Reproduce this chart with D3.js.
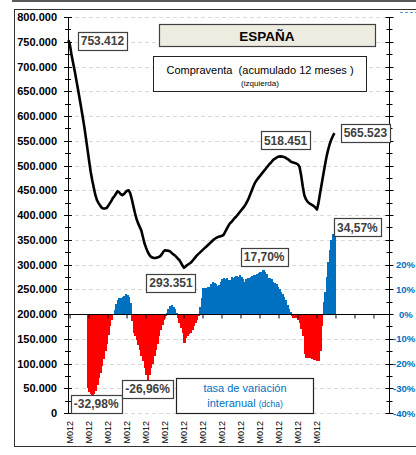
<!DOCTYPE html>
<html>
<head>
<meta charset="utf-8">
<script src="https://cdn.jsdelivr.net/npm/d3@7"></script>
<style>
  body { margin: 0; background: #fff; }
  text { font-family: "Liberation Sans", Arial, sans-serif; }
</style>
</head>
<body>
<script>
// compraventa de viviendas, acumulado 12 meses (miles), mensual desde M012
const compraventa = [
  753.412, 742, 722, 706, 690, 672, 654, 636, 617, 598, 578, 556,
  533, 510, 488, 470, 455, 440, 430, 424, 419, 415, 413, 413,
  414, 418, 423, 428, 434, 438, 443, 448, 446, 442, 440, 442,
  446, 449, 450, 444, 432, 418, 404, 392, 383, 376, 369, 356,
  343, 334, 326, 320, 316, 314, 313, 313, 314, 315, 317, 321,
  326, 329, 328, 328, 327, 324, 321, 319, 316, 312, 309, 304,
  298, 293.351, 296, 299, 301, 303, 306, 310, 314, 318, 321, 324,
  327, 330, 333, 336, 339, 342, 345, 348, 351, 353, 355, 356,
  357, 358, 360, 366, 372, 378, 383, 386, 390, 394, 397, 401,
  405, 409, 413, 417, 422, 428, 435, 443, 451, 459, 466, 471,
  475, 479, 483, 487, 491, 495, 499, 503, 506, 510, 513, 515,
  517, 518, 518.451, 518, 517, 516, 514, 512, 509, 507, 506, 505,
  504, 502, 497, 480, 458, 440, 432, 427, 424, 422, 420, 418,
  415, 411, 425, 445, 463, 482, 500, 517, 531, 543, 552, 559,
  565.523
];

// tasa de variación interanual (%)
const tasa = [
  null, null, null, null, null, null, null, null, null, null, null, null,
  -30, -31.5, -32.5, -32.98, -32.5, -31, -28.5, -26, -24, -21, -18, -15,
  -12, -8.5, -5, -2.5, -0.5, 1.5, 4, 5.7, 6.3, 6.5, 7, 7.3,
  8, 7.5, 7, 4.4, -3, -7.7, -9, -10.5, -12.5, -14.5, -17, -19,
  -22, -24.6, -26.96, -24.6, -22, -20, -17, -14.5, -12, -9, -6.5, -4.4,
  -2.5, -1, 0.5, 2, 3.2, 3.6, 3, 2, 0.5, -1.5, -3.8, -5.5,
  -7.7, -11.6, -9.5, -9, -8, -7.7, -6.5, -5, -3.8, -2.5, -1, 3,
  6.5, 10.5, 10, 10.5, 11, 11, 12, 13, 12.5, 12, 11.5, 11.7,
  13, 14, 14.5, 14, 14.5, 13.7, 13.7, 15, 14.5, 15, 15.5, 15,
  15.8, 15, 14, 13, 14, 14.5, 14.5, 15, 15.5, 15.8, 15.8, 16,
  16.5, 17, 16, 17.7, 17, 16, 14.5, 14.5, 14, 13, 12.5, 12,
  11, 10, 9, 8, 7, 5.7, 3.5, 2, 0.8, -1, -1.6, -1.8,
  -1.6, -2.5, -3.8, -6, -9, -16, -17.8, -17.4, -17.6, -17.8, -18, -18.6,
  -18.4, -19, -18.8, -15, -5, 5, 9, 15, 21, 26, 30, 32.5,
  34.57
];

const xLabels = ["M012", "M012", "M012", "M012", "M012", "M012", "M012",
  "M012", "M012", "M012", "M012", "M012", "M012", "M012"];
const leftTicks = [0, 50, 100, 150, 200, 250, 300, 350, 400, 450, 500, 550, 600, 650, 700, 750, 800];
const rightTicks = [-40, -30, -20, -10, 0, 10, 20];

const es = d3.formatLocale({ decimal: ",", thousands: ".", grouping: [3], currency: ["", " €"], minus: "-" });
const fmtNum = v => es.format(",.0f")(v * 1000);
const fmtPct = v => es.format(".2f")(v) + "%";

let width = 416, height = 455;
let plot = { left: 68, right: 389, top: 17, bottom: 413 };

let svg = d3.select("body").append("svg")
  .attr("width", width)
  .attr("height", height);

svg.append("rect").attr("width", width).attr("height", height).attr("fill", "#fff");

// marcos
svg.append("line").attr("x1", 12).attr("x2", width).attr("y1", 1).attr("y2", 1)
  .attr("stroke", "#222").attr("stroke-width", 1.5);
svg.append("rect")
  .attr("x", 14.5).attr("y", 9.5).attr("width", width).attr("height", 437)
  .attr("fill", "none").attr("stroke", "#333").attr("stroke-width", 1);
svg.append("line").attr("x1", 400).attr("x2", width).attr("y1", 12.5).attr("y2", 12.5)
  .attr("stroke", "#5b9bd5").attr("stroke-dasharray", "3,2");

let x = d3.scaleLinear().domain([-0.3, 202.5]).range([plot.left, plot.right]);
let y = d3.scaleLinear().domain([0, 800]).range([plot.bottom, plot.top]);
let yR = d3.scaleLinear().domain([-40, 120]).range([plot.bottom, plot.top]);

// rejilla
svg.append("g")
  .selectAll("line")
  .data(leftTicks)
  .join("line")
  .attr("x1", plot.left).attr("x2", plot.right)
  .attr("y1", d => Math.round(y(d)) + 0.5).attr("y2", d => Math.round(y(d)) + 0.5)
  .attr("stroke", "#d9d9d9")
  .attr("stroke-dasharray", "4,3");

// barras tasa interanual
let bw = x(1) - x(0);
svg.append("g")
  .attr("shape-rendering", "crispEdges")
  .selectAll("rect")
  .data(tasa.map((v, i) => [i, v]).filter(d => d[1] !== null))
  .join("rect")
  .attr("x", d => x(d[0]) - bw / 2)
  .attr("width", bw + 0.9)
  .attr("y", d => Math.min(yR(d[1]), yR(0)))
  .attr("height", d => Math.abs(yR(d[1]) - yR(0)))
  .attr("fill", d => d[1] >= 0 ? "#0070c0" : "#ff0000");

// eje de categorías en 0%
let zeroY = Math.round(yR(0)) + 0.5;
svg.append("line")
  .attr("x1", plot.left).attr("x2", plot.right)
  .attr("y1", zeroY).attr("y2", zeroY)
  .attr("stroke", "#000").attr("stroke-width", 1);
let catTicks = d3.range(1, 203, 12);
svg.append("g")
  .selectAll("line")
  .data(catTicks)
  .join("line")
  .attr("x1", d => x(d)).attr("x2", d => x(d))
  .attr("y1", zeroY).attr("y2", zeroY + 4)
  .attr("stroke", "#000");
svg.append("g")
  .selectAll("text")
  .data(xLabels)
  .join("text")
  .attr("transform", (d, k) => "translate(" + x(1 + 12 * k) + "," + 421 + ") rotate(-90)")
  .attr("dy", "0.35em")
  .attr("text-anchor", "end")
  .attr("font-size", 9)
  .attr("fill", "#000")
  .text(d => d);

// línea compraventa
svg.append("path")
  .datum(compraventa)
  .attr("fill", "none")
  .attr("stroke", "#000")
  .attr("stroke-width", 2.6)
  .attr("stroke-linejoin", "round")
  .attr("d", d3.line()
    .x((d, i) => x(i))
    .y(d => y(d)));

// eje izquierdo
let axL = svg.append("g")
  .attr("transform", "translate(" + plot.left + ",0)")
  .call(d3.axisLeft(y)
    .tickValues(leftTicks)
    .tickSize(0)
    .tickPadding(11)
    .tickFormat(d => d === 0 ? "0" : fmtNum(d)));
axL.select(".domain").attr("stroke", "#000");
axL.selectAll("text").attr("font-size", 11).attr("font-weight", "bold")
  .attr("font-family", "Liberation Sans").attr("fill", "#000");

function crossTicks(g, x0, scale, majors, minors) {
  g.selectAll("line.maj").data(majors).join("line").attr("class", "maj")
    .attr("x1", x0 - 4).attr("x2", x0 + 4)
    .attr("y1", d => Math.round(scale(d)) + 0.5).attr("y2", d => Math.round(scale(d)) + 0.5)
    .attr("stroke", "#000");
  g.selectAll("line.min").data(minors).join("line").attr("class", "min")
    .attr("x1", x0 - 3).attr("x2", x0 + 3)
    .attr("y1", d => Math.round(scale(d)) + 0.5).attr("y2", d => Math.round(scale(d)) + 0.5)
    .attr("stroke", "#000");
}
crossTicks(svg.append("g"), plot.left, y, leftTicks, leftTicks.slice(1).map(d => d - 25));

// eje derecho
let axR = svg.append("g")
  .attr("transform", "translate(" + plot.right + ",0)")
  .call(d3.axisRight(yR)
    .tickValues(rightTicks)
    .tickSize(0)
    .tickPadding(4)
    .tickFormat(d => d + "%"));
axR.select(".domain").attr("stroke", "#000").attr("d", "M0.5," + plot.top + "V" + plot.bottom);
axR.selectAll("text").attr("font-size", 9.5).attr("font-weight", "bold")
  .attr("font-family", "Liberation Sans").attr("fill", "#0070c0")
  .attr("text-anchor", d => d > 0 ? "end" : "start")
  .attr("x", d => d > 0 ? 26 : (d < 0 ? 4 : 10));
let rMajors = d3.range(-40, 121, 10), rMinors = d3.range(-35, 120, 10);
crossTicks(svg.append("g"), plot.right + 0.5, yR, rMajors, rMinors);

// cajas de título
svg.append("rect").attr("x", 159.5).attr("y", 24.5).attr("width", 216).attr("height", 22)
  .attr("fill", "#eeece1").attr("stroke", "#404040").attr("stroke-width", 1.2);
svg.append("text").attr("x", 267).attr("y", 41).attr("text-anchor", "middle")
  .attr("font-size", 13.5).attr("font-weight", "bold").attr("fill", "#000").text("ESPAÑA");

svg.append("rect").attr("x", 153.5).attr("y", 56.5).attr("width", 213).attr("height", 35)
  .attr("fill", "#fff").attr("stroke", "#222");
svg.append("text").attr("x", 260).attr("y", 74).attr("text-anchor", "middle")
  .attr("font-size", 11).attr("fill", "#000").attr("xml:space", "preserve")
  .text("Compraventa  (acumulado 12 meses )");
svg.append("text").attr("x", 260).attr("y", 86).attr("text-anchor", "middle")
  .attr("font-size", 8).attr("fill", "#000").text("(izquierda)");

svg.append("rect").attr("x", 176.5).attr("y", 378.5).attr("width", 137).attr("height", 35)
  .attr("fill", "#fff").attr("stroke", "#222").attr("stroke-width", 1.2);
svg.append("text").attr("x", 245).attr("y", 392).attr("text-anchor", "middle")
  .attr("font-size", 11).attr("fill", "#0070c0").text("tasa de variación");
let leg2 = svg.append("text").attr("x", 245).attr("y", 407).attr("text-anchor", "middle")
  .attr("font-size", 11).attr("fill", "#0070c0");
leg2.append("tspan").text("interanual ");
leg2.append("tspan").attr("font-size", 8.5).text("(dcha)");

// etiquetas de datos
let notes = [
  { i: 0, v: compraventa[0], sc: y, txt: fmtNum(compraventa[0]), dx: 34, dy: 1 },
  { i: 73, v: compraventa[73], sc: y, txt: fmtNum(compraventa[73]), dx: -13, dy: 15 },
  { i: 134, v: compraventa[134], sc: y, txt: fmtNum(compraventa[134]), dx: 5, dy: -16 },
  { i: 168, v: compraventa[168], sc: y, txt: fmtNum(compraventa[168]), dx: 31, dy: 0 },
  { i: 123, v: tasa[123], sc: yR, txt: fmtPct(tasa[123]), dx: 1, dy: -13 },
  { i: 168, v: tasa[168], sc: yR, txt: fmtPct(tasa[168]), dx: 23, dy: -1 },
  { i: 15, v: tasa[15], sc: yR, txt: fmtPct(tasa[15]), dx: 4, dy: 8 },
  { i: 50, v: tasa[50], sc: yR, txt: fmtPct(tasa[50]), dx: 0, dy: 8 }
];
notes.forEach(n => {
  let cx = x(n.i) + n.dx, cy = n.sc(n.v) + n.dy;
  let g = svg.append("g");
  let r = g.append("rect");
  let t = g.append("text")
    .attr("x", cx).attr("y", cy).attr("dy", "0.35em")
    .attr("text-anchor", "middle")
    .attr("font-size", 12).attr("font-weight", "bold")
    .attr("fill", "#404040")
    .text(n.txt);
  let w = t.node().getComputedTextLength() + 6;
  r.attr("x", Math.round(cx - w / 2) + 0.5).attr("y", Math.round(cy - 9) + 0.5)
    .attr("width", Math.round(w)).attr("height", 18)
    .attr("fill", "#fff").attr("stroke", "#404040").attr("stroke-width", 1.2);
});
</script>
</body>
</html>
